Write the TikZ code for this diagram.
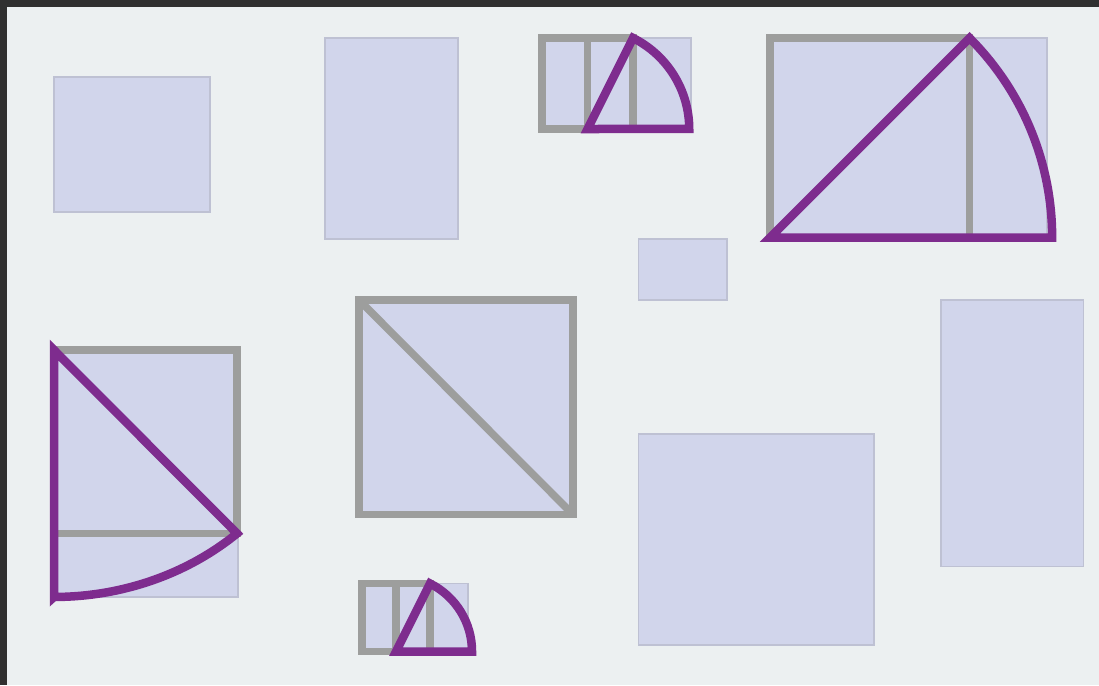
\documentclass[tikz,border=0pt]{standalone}
\usepackage{tikz}
\definecolor{cframe}{HTML}{303030}
\definecolor{cbg}{HTML}{ECF0F1}
\definecolor{cfill}{HTML}{D1D5EB}
\definecolor{cedge}{HTML}{BEC1D3}
\definecolor{cguide}{HTML}{9D9E9D}
\definecolor{ccut}{HTML}{7E2C8E}
\tikzset{
  area/.style={draw=cedge, fill=cfill, line width=1.3pt},
  guide/.style={draw=cguide, line width=7.5pt},
  cut/.style={draw=ccut, line width=8.5pt, miter limit=3}
}

\begin{document}
\begin{tikzpicture}[x=1pt,y=-1pt]
\useasboundingbox (0,0) rectangle (1099,685);
\fill[cframe] (0,0) rectangle (1099,685);
\fill[cbg] (7,7) rectangle (1099,685);

% plain rectangles
\draw[area] (54,77) rectangle (210,212);
\draw[area] (325,38) rectangle (458,239);
\draw[area] (638.5,239) rectangle (727,300);
\draw[area] (941,300) rectangle (1083.5,566.5);
\draw[area] (638.5,434) rectangle (874,645);

% golden rectangle, top
\coordinate (c0) at (587.5,129);
\coordinate (c1) at (633,38);
\draw[area] (542,38) rectangle (691,129);
\draw[guide] (542,38) rectangle (633,129);
\draw[guide] (587.5,38) -- (c0);
\draw[cut] (c0) -- (c1) arc[start angle=-63.43, end angle=0, radius=101.74] -- cycle;

% golden rectangle, bottom
\coordinate (d0) at (396,651.5);
\coordinate (d1) at (430,583.5);
\draw[area] (362,583.5) rectangle (468,651.5);
\draw[guide] (362,583.5) rectangle (430,651.5);
\draw[guide] (396,583.5) -- (d0);
\draw[cut] (d0) -- (d1) arc[start angle=-63.43, end angle=0, radius=76.03] -- cycle;

% root-two rectangle
\coordinate (e0) at (770,237.5);
\coordinate (e1) at (969.5,38);
\draw[area] (770,38) rectangle (1047,237.5);
\draw[guide] (770,38) rectangle (969.5,237.5);
\draw[cut] (e0) -- (e1) arc[start angle=-45, end angle=0, radius=282.14] -- cycle;

% standing rectangle, left
\coordinate (f0) at (54,350);
\coordinate (f1) at (237,533.5);
\draw[area] (54,350) rectangle (238,597);
\draw[guide] (f0) rectangle (f1);
\draw[cut] (54,597) -- (f0) -- (f1) arc[start angle=48, end angle=90, x radius=273.4, y radius=247] -- cycle;

% square with diagonal
\coordinate (g0) at (359,300);
\coordinate (g1) at (573,514.5);
\draw[guide, fill=cfill] (g0) rectangle (g1);
\draw[guide] (g0) -- (g1);

\end{tikzpicture}
\end{document}
